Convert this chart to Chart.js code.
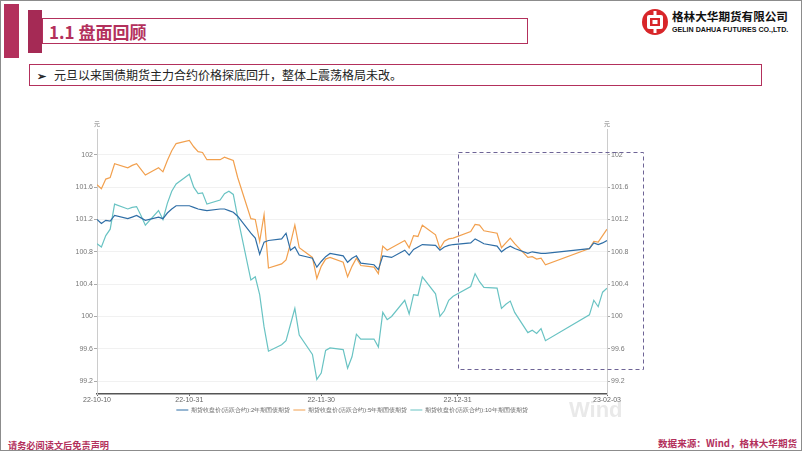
<!DOCTYPE html>
<html>
<head>
<meta charset="utf-8">
<script src="https://cdn.jsdelivr.net/npm/chart.js@4.4.0/dist/chart.umd.min.js"></script>
<style>
  html, body { margin: 0; padding: 0; background: #fff; }
  #slide { position: relative; width: 800px; height: 449px; border: 1px solid #8c8c8c; overflow: hidden;
    font-family: "Noto Sans CJK SC", "Noto Sans", sans-serif; }
  .bar1 { position: absolute; left: 3px; top: 3px; width: 15px; height: 54px; background: #b3305c; }
  .bar2 { position: absolute; left: 27px; top: 9px; width: 14px; height: 43px; background: #a52a55; }
  .titlebox { position: absolute; left: 41px; top: 17px; width: 484px; height: 24px; border: 1.5px solid #b3305c; }
  .title { position: absolute; left: 48px; top: 19px; font-size: 17px; font-weight: bold; color: #b3305c; line-height: 24px; }
  .bullet { position: absolute; left: 28px; top: 63px; width: 731px; height: 20px; border: 1.5px solid #b3305c; }
  .bullet span { position: absolute; left: 24px; top: 1px; font-size: 12px; line-height: 18px; color: #222; }
  .bullet b { position: absolute; left: 7px; top: 1px; font-size: 11px; line-height: 18px; color: #222; }
  .logo { position: absolute; left: 640px; top: 7px; }
  .logo-cn { position: absolute; left: 671px; top: 7px; font-size: 11.6px; font-weight: bold; color: #111; }
  .logo-en { position: absolute; left: 671px; top: 25px; font-size: 7.1px; font-weight: bold; color: #111; font-family: "Liberation Sans", Arial, sans-serif; }
  .foot-l { position: absolute; left: 7px; top: 437px; font-size: 9.2px; color: #b3305c; font-weight: bold; }
  .foot-r { position: absolute; left: 657px; top: 435px; font-size: 9.6px; color: #b3305c; font-weight: bold; }
  #box { position: absolute; left: 56px; top: 110px; width: 590px; height: 312px; }
</style>
</head>
<body>
<div id="slide">
  <div class="bar1"></div>
  <div class="bar2"></div>
  <div class="titlebox"></div>
  <div class="title">1.1 盘面回顾</div>
  <svg class="logo" width="28" height="28" viewBox="0 0 28 28">
    <circle cx="14" cy="14" r="13" fill="#d8262a"/>
    <rect x="6" y="7" width="16" height="14" rx="2" fill="#fff"/>
    <rect x="9" y="10" width="10" height="8" fill="#d8262a"/>
    <rect x="11.5" y="12" width="5" height="4" fill="#fff"/>
    <rect x="12.5" y="3" width="3" height="4" fill="#fff"/>
    <rect x="12.5" y="21" width="3" height="4" fill="#fff"/>
  </svg>
  <div class="logo-cn">格林大华期货有限公司</div>
  <div class="logo-en">GELIN DAHUA FUTURES CO.,LTD.</div>
  <div class="bullet"><b>➢</b><span>元旦以来国债期货主力合约价格探底回升，整体上震荡格局未改。</span></div>
  <div id="box"><canvas id="chart"></canvas></div>
  <div class="foot-l">请务必阅读文后免责声明</div>
  <div class="foot-r">数据来源：Wind，格林大华期货</div>
</div>
<script>
const tradeDates = [
  '2022-10-10','2022-10-11','2022-10-12','2022-10-13','2022-10-14','2022-10-17','2022-10-18','2022-10-19','2022-10-20','2022-10-21',
  '2022-10-24','2022-10-25','2022-10-26','2022-10-27','2022-10-28','2022-10-31',
  '2022-11-01','2022-11-02','2022-11-03','2022-11-04','2022-11-07','2022-11-08','2022-11-09','2022-11-10','2022-11-11',
  '2022-11-14','2022-11-15','2022-11-16','2022-11-17','2022-11-18','2022-11-21','2022-11-22','2022-11-23','2022-11-24','2022-11-25',
  '2022-11-28','2022-11-29','2022-11-30',
  '2022-12-01','2022-12-02','2022-12-05','2022-12-06','2022-12-07','2022-12-08','2022-12-09','2022-12-12','2022-12-13','2022-12-14',
  '2022-12-15','2022-12-16','2022-12-19','2022-12-20','2022-12-21','2022-12-22','2022-12-23','2022-12-26','2022-12-27','2022-12-28',
  '2022-12-29','2022-12-30',
  '2023-01-03','2023-01-04','2023-01-05','2023-01-06','2023-01-09','2023-01-10','2023-01-11','2023-01-12','2023-01-13',
  '2023-01-16','2023-01-17','2023-01-18','2023-01-19','2023-01-20','2023-01-30','2023-01-31',
  '2023-02-01','2023-02-02','2023-02-03'
];

// 2年期
const ts2y = [
  101.20,101.15,101.19,101.18,101.25,101.21,101.23,101.25,101.22,101.19,101.23,101.21,101.28,101.33,101.37,101.37,
  101.35,101.33,101.32,101.31,101.33,101.33,101.31,101.29,101.24,101.03,100.97,100.77,100.92,100.94,100.96,101.03,100.82,100.86,100.76,100.72,100.61,100.68,
  100.74,100.78,100.75,100.67,100.72,100.75,100.66,100.64,100.58,100.75,100.74,100.73,100.82,100.76,100.83,100.86,100.89,100.88,100.82,100.86,100.88,100.89,
  100.91,100.96,100.93,100.90,100.87,100.80,100.84,100.87,100.84,100.78,100.80,100.79,100.78,100.78,100.84,100.91,
  100.89,100.91,100.94
];
// 5年期
const tf5y = [
  101.63,101.58,101.70,101.72,101.89,101.84,101.87,101.89,101.82,101.75,101.84,101.79,101.93,102.05,102.14,102.18,
  102.10,102.04,102.03,101.94,101.94,101.97,101.95,101.93,101.72,101.21,101.20,100.93,101.26,100.60,100.65,100.70,100.90,101.13,100.85,100.73,100.47,100.62,
  100.71,100.73,100.67,100.49,100.62,100.72,100.63,100.61,100.53,100.87,100.82,100.85,100.94,100.85,101.00,100.99,101.13,101.01,100.84,100.93,100.96,100.97,
  101.05,101.14,101.13,101.06,101.03,100.85,100.91,100.97,100.90,100.73,100.74,100.71,100.72,100.64,100.84,100.93,
  100.92,101.00,101.08
];
// 10年期
const t10y = [
  100.90,100.86,101.00,101.08,101.39,101.33,101.35,101.36,101.25,101.13,101.31,101.20,101.40,101.55,101.64,101.76,
  101.60,101.52,101.53,101.39,101.44,101.52,101.55,101.51,101.23,100.45,100.49,100.27,99.87,99.57,99.65,99.70,99.90,100.10,99.77,99.53,99.22,99.30,
  99.58,99.61,99.59,99.36,99.50,99.78,99.72,99.72,99.62,100.05,99.96,100.00,100.20,100.03,100.27,100.26,100.49,100.28,100.00,100.07,100.20,100.25,
  100.37,100.53,100.43,100.36,100.35,100.10,100.15,100.19,100.05,99.80,99.83,99.79,99.85,99.70,100.02,100.20,
  100.12,100.30,100.35
];

const seriesNames = ['期货收盘价(活跃合约):2年期国债期货', '期货收盘价(活跃合约):5年期国债期货', '期货收盘价(活跃合约):10年期国债期货'];
const seriesColors = ['#2f6ea6', '#f2a04e', '#69c3c3'];
const xTickDates = ['2022-10-10', '2022-10-31', '2022-11-30', '2022-12-31', '2023-02-03'];
const yTicks = [99.2, 99.6, 100, 100.4, 100.8, 101.2, 101.6, 102];

const dayMs = 86400000;
const base = Date.parse(tradeDates[0]);
const dayOf = d => Math.round((Date.parse(d) - base) / dayMs);
const xTicks = xTickDates.map(dayOf);
const tickLabel = v => {
  const i = xTicks.indexOf(v);
  return i < 0 ? '' : xTickDates[i].slice(2);
};
const pts = arr => arr.map((v, i) => ({ x: dayOf(tradeDates[i]), y: v }));

const yTickSet = axis => { axis.ticks = yTicks.map(v => ({ value: v })); };

const extras = {
  id: 'extras',
  afterDraw(chart) {
    const { ctx, chartArea, scales } = chart;
    ctx.save();
    ctx.fillStyle = '#777';
    ctx.font = '6px "Noto Sans CJK SC"';
    ctx.textAlign = 'center';
    ctx.fillText('元', chartArea.left, chartArea.top - 5);
    ctx.fillText('元', chartArea.right, chartArea.top - 5);
    // highlight box
    const l = scales.x.getPixelForValue(dayOf('2022-12-31'));
    const r = chartArea.right + 36;
    const t = scales.y.getPixelForValue(102.04);
    const b = scales.y.getPixelForValue(99.35);
    ctx.strokeStyle = '#6e6496';
    ctx.lineWidth = 1;
    ctx.setLineDash([4, 3]);
    ctx.strokeRect(Math.round(l) + 0.5, Math.round(t) + 0.5, Math.round(r - l), Math.round(b - t));
    ctx.setLineDash([]);
    // watermark
    ctx.fillStyle = 'rgba(200,200,200,0.4)';
    ctx.font = 'bold 22px "Liberation Sans"';
    ctx.textAlign = 'left';
    ctx.fillText('Wind', chartArea.right - 38, chartArea.bottom + 17);
    ctx.restore();
  }
};

new Chart(document.getElementById('chart'), {
  type: 'line',
  data: {
    datasets: [
      { label: seriesNames[0], data: pts(ts2y), borderColor: seriesColors[0], backgroundColor: seriesColors[0] },
      { label: seriesNames[1], data: pts(tf5y), borderColor: seriesColors[1], backgroundColor: seriesColors[1] },
      { label: seriesNames[2], data: pts(t10y), borderColor: seriesColors[2], backgroundColor: seriesColors[2] }
    ]
  },
  options: {
    responsive: true,
    maintainAspectRatio: false,
    animation: false,
    layout: { padding: { top: 18, left: 0, right: 0, bottom: 0 } },
    elements: {
      point: { radius: 0 },
      line: { borderWidth: 1.2, tension: 0 }
    },
    scales: {
      x: {
        type: 'linear',
        min: 0,
        max: xTicks[xTicks.length - 1],
        afterBuildTicks: axis => { axis.ticks = xTicks.map(v => ({ value: v })); },
        afterFit: s => { s.height = 10; },
        ticks: { autoSkip: false, maxRotation: 0, color: '#666', font: { size: 7 }, padding: 0, callback: tickLabel },
        grid: { drawOnChartArea: false, tickLength: 2, color: '#666' },
        border: { color: '#555', width: 1.5 }
      },
      y: {
        position: 'left',
        min: 99.04,
        max: 102.32,
        afterBuildTicks: yTickSet,
        afterFit: s => { s.width = 40; },
        ticks: { color: '#777', font: { size: 7 }, padding: 1, callback: v => String(v) },
        grid: { color: '#f1f1f1', tickColor: '#aaa', tickLength: 3 },
        border: { color: '#ccc', width: 1 }
      },
      y2: {
        position: 'right',
        min: 99.04,
        max: 102.32,
        afterBuildTicks: yTickSet,
        afterFit: s => { s.width = 40; },
        ticks: { color: '#777', font: { size: 7 }, padding: 1, callback: v => String(v) },
        grid: { drawOnChartArea: false, tickColor: '#aaa', tickLength: 3 },
        border: { color: '#ccc', width: 1 }
      }
    },
    plugins: {
      legend: {
        position: 'bottom',
        labels: {
          color: '#666',
          font: { size: 6 },
          usePointStyle: true,
          pointStyle: 'line',
          pointStyleWidth: 12,
          boxHeight: 6,
          padding: 3
        }
      },
      tooltip: { enabled: false }
    }
  },
  plugins: [extras]
});
</script>
</body>
</html>
